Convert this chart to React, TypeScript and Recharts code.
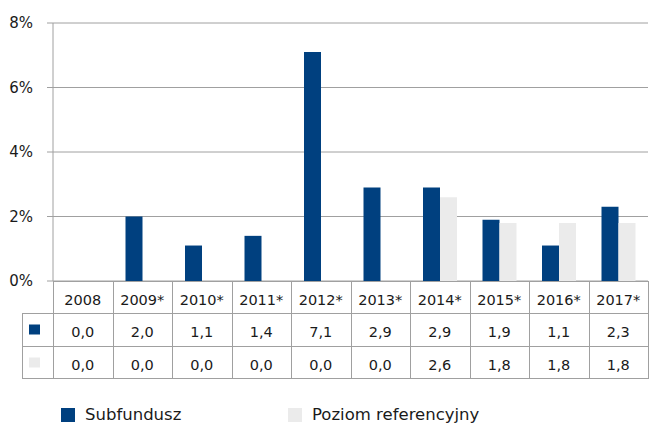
import React from "react";
import { BarChart, Bar, XAxis, YAxis, CartesianGrid } from "recharts";

const CATEGORIES = ["2008", "2009*", "2010*", "2011*", "2012*", "2013*", "2014*", "2015*", "2016*", "2017*"];
const SUBFUNDUSZ = [0.0, 2.0, 1.1, 1.4, 7.1, 2.9, 2.9, 1.9, 1.1, 2.3];
const POZIOM = [0.0, 0.0, 0.0, 0.0, 0.0, 0.0, 2.6, 1.8, 1.8, 1.8];
const Y_TICKS = [0, 2, 4, 6, 8];
const SERIES_NAMES = ["Subfundusz", "Poziom referencyjny"];

const DARK = "#00407F";
const LIGHT = "#EBEBEB";
const LINE = "#A0A0A0";
const TEXT = "#1A1A1A";
const FONT = "'DejaVu Sans', Verdana, sans-serif";

const data = CATEGORIES.map((year, i) => ({
  year,
  sub: SUBFUNDUSZ[i],
  poziom: POZIOM[i],
}));

const fmt = (v: number) => v.toFixed(1).replace(".", ",");

// header row + two value rows, drawn under each category of the x axis
const ROW_H = [32, 33, 32];
const COL_W = 59.5;

function TableTick(props: any) {
  const { x, y, payload } = props;
  const i = payload.index;
  const left = Math.round(x - COL_W / 2) + 0.5;
  const right = Math.round(x + COL_W / 2) + 0.5;
  const top = Math.round(y) + 0.5;
  const r1 = top + ROW_H[0];
  const r2 = r1 + ROW_H[1];
  const r3 = r2 + ROW_H[2];
  const cells = [
    { y0: top, y1: r1, text: CATEGORIES[i] },
    { y0: r1, y1: r2, text: fmt(SUBFUNDUSZ[i]) },
    { y0: r2, y1: r3, text: fmt(POZIOM[i]) },
  ];
  return (
    <g>
      {cells.map((c, k) => (
        <g key={k}>
          <rect x={left} y={c.y0} width={right - left} height={c.y1 - c.y0} fill="none" stroke={LINE} />
          <text
            x={x}
            y={(c.y0 + c.y1) / 2 + 2}
            textAnchor="middle"
            dominantBaseline="central"
            fill={TEXT}
            fontSize={14.5}
            fontFamily={FONT}
          >
            {c.text}
          </text>
        </g>
      ))}
      {i === 0 && (
        <g>
          <rect x={22.5} y={r1} width={left - 22.5} height={ROW_H[1]} fill="none" stroke={LINE} />
          <rect x={22.5} y={r2} width={left - 22.5} height={ROW_H[2]} fill="none" stroke={LINE} />
          <rect x={29} y={r1 + 11} width={11} height={10} fill={DARK} />
          <rect x={29} y={r2 + 11} width={11} height={10} fill={LIGHT} />
        </g>
      )}
    </g>
  );
}

export default function App() {
  return (
    <div
      style={{
        position: "absolute",
        left: 0,
        top: 0,
        width: 650,
        height: 424,
        background: "#fff",
        fontFamily: FONT,
      }}
    >
      <BarChart
        width={650}
        height={424}
        data={data}
        margin={{ top: 23, right: 2, left: 0, bottom: 46 }}
        barGap={0}
        barSize={17}
      >
        <CartesianGrid vertical={false} stroke={LINE} />
        <XAxis
          dataKey="year"
          height={97}
          axisLine={false}
          tickLine={false}
          tickSize={0}
          tickMargin={0}
          interval={0}
          tick={<TableTick />}
        />
        <YAxis
          width={53}
          domain={[0, 8]}
          ticks={Y_TICKS}
          tickFormatter={(v) => `${v}%`}
          axisLine={{ stroke: LINE }}
          tickLine={{ stroke: LINE }}
          tickSize={6}
          tickMargin={14}
          tick={{ fill: TEXT, fontSize: 15, fontFamily: FONT }}
        />
        <Bar dataKey="sub" name={SERIES_NAMES[0]} fill={DARK} isAnimationActive={false} />
        <Bar dataKey="poziom" name={SERIES_NAMES[1]} fill={LIGHT} isAnimationActive={false} />
      </BarChart>
      <div
        style={{
          position: "absolute",
          left: 61,
          top: 405,
          display: "flex",
          alignItems: "center",
          fontSize: 16.5,
          color: TEXT,
          lineHeight: "20px",
        }}
      >
        <span style={{ display: "inline-block", width: 14, height: 14, background: DARK, marginRight: 10 }} />
        <span style={{ width: 203 }}>{SERIES_NAMES[0]}</span>
        <span style={{ display: "inline-block", width: 14, height: 14, background: LIGHT, marginRight: 10 }} />
        <span>{SERIES_NAMES[1]}</span>
      </div>
    </div>
  );
}
